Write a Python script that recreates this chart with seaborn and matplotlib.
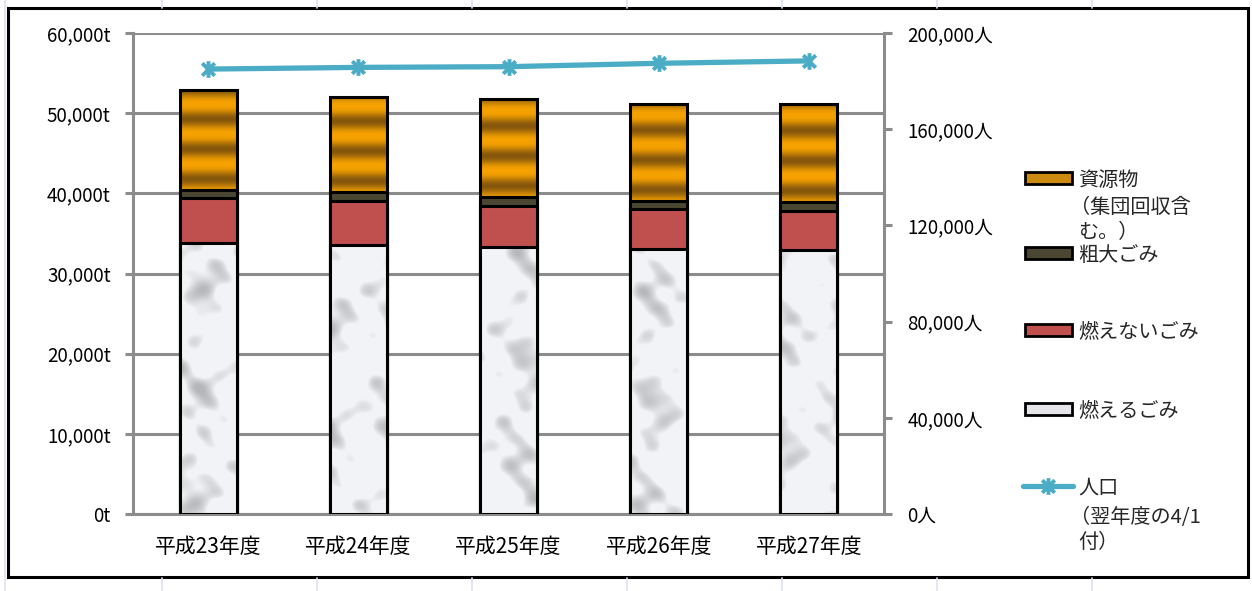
import numpy as np
import pandas as pd
import matplotlib
matplotlib.use("Agg")
import matplotlib.pyplot as plt
from matplotlib.patches import Rectangle
from matplotlib.lines import Line2D
from matplotlib.path import Path
from matplotlib.ticker import FixedLocator, FuncFormatter
import seaborn as sns

# ---- data -------------------------------------------------------------
years = ["平成23年度", "平成24年度", "平成25年度", "平成26年度", "平成27年度"]
burnable = [33800, 33550, 33270, 33020, 32930]        # 燃えるごみ (t)
non_burnable = [5650, 5530, 5190, 4980, 4870]         # 燃えないごみ (t)
bulky = [960, 1050, 1120, 1080, 1100]                 # 粗大ごみ (t)
resources = [12460, 11850, 12190, 12060, 12240]       # 資源物 (t)
population = [185000, 185700, 186000, 187400, 188400]  # 人口 (人)

label_resources = ["資源物", "（集団回収含", "む。）"]
label_bulky = ["粗大ごみ"]
label_non_burnable = ["燃えないごみ"]
label_burnable = ["燃えるごみ"]
label_population = ["人口", "（翌年度の4/1", "付）"]

left_ticks = [0, 10000, 20000, 30000, 40000, 50000, 60000]
right_ticks = [0, 40000, 80000, 120000, 160000, 200000]

# ---- style ------------------------------------------------------------
sns.set_style("white")
plt.rcParams["font.family"] = ["Noto Sans CJK JP", "DejaVu Sans"]

GREY = "#8c8c8c"
ORANGE_BRIGHT = np.array([0xf6, 0xa2, 0x00]) / 255
ORANGE_DARK = np.array([0x86, 0x57, 0x0c]) / 255
OLIVE = "#4b4631"
RED = "#c0504d"
BLUE = "#4bacc6"
EDGE_LW = 2.2
BAR_W = 0.38

W, H = 1252, 591
fig = plt.figure(figsize=(W / 100, H / 100), dpi=100)
fig.patch.set_facecolor("white")


def fx(px):
    return px / W


def fy(py):
    return 1 - py / H


ax = fig.add_axes([fx(133), fy(514), (884 - 133) / W, (514 - 33) / H])

df = pd.DataFrame({
    "year": years,
    "burnable": burnable,
    "non_burnable": non_burnable,
    "bulky": bulky,
    "resources": resources,
})
df["c1"] = df["burnable"]
df["c2"] = df["c1"] + df["non_burnable"]
df["c3"] = df["c2"] + df["bulky"]
df["c4"] = df["c3"] + df["resources"]

PX_PER_T = 481 / 60000.0  # vertical pixels per tonne


def draw_layer(col, color, z):
    n0 = len(ax.patches)
    sns.barplot(data=df, x="year", y=col, color=color, saturation=1,
                width=BAR_W, edgecolor="black", linewidth=EDGE_LW,
                zorder=z, ax=ax)
    return ax.patches[n0:]


def stripe_texture(h_px):
    off = np.linspace(0, h_px, max(int(h_px * 3), 2))
    t = 0.5 * (1 + np.cos(2 * np.pi * (off - 11) / 30.0))
    w = t ** 1.3
    rgb = ORANGE_BRIGHT[None, :] * (1 - w)[:, None] + ORANGE_DARK[None, :] * w[:, None]
    return rgb[:, None, :]


def marble_texture(w_px, h_px, shift):
    u = np.arange(int(w_px))[None, :] + shift
    v = np.arange(int(h_px))[:, None] + 1.7 * shift
    p = (0.5 * np.sin(0.09 * u + 0.8 * np.sin(0.05 * v))
         + 0.5 * np.sin(0.06 * v + 0.9 * np.sin(0.08 * u))
         + 0.35 * np.sin(0.14 * (u + v))
         + 0.35 * np.sin(0.12 * (u - v) + 1.0)
         + 0.25 * np.sin(0.21 * u + 0.17 * v + 2.0)
         + 0.2 * np.sin(0.27 * v - 0.11 * u + 0.5))
    d = np.clip((p - 0.3) / 1.4, 0, 1) ** 0.8
    g = 0.955 - 0.24 * d
    rgb = np.stack([g - 0.005, g, np.clip(g + 0.015, 0, 1)], axis=-1)
    return rgb


# stacked columns drawn as cumulative totals, tallest first
top_bars = draw_layer("c4", "#d08c10", 2)
for p, lo, hi in zip(top_bars, df["c3"], df["c4"]):
    x0, w = p.get_x(), p.get_width()
    img = stripe_texture((hi - lo) * PX_PER_T)
    ax.imshow(img, extent=[x0, x0 + w, lo, hi], origin="lower",
              aspect="auto", interpolation="bilinear", zorder=1.9)
    p.set_facecolor("none")

draw_layer("c3", OLIVE, 3)
draw_layer("c2", RED, 4)

base_bars = draw_layer("c1", "#eeeef0", 5)
for i, (p, hi) in enumerate(zip(base_bars, df["c1"])):
    x0, w = p.get_x(), p.get_width()
    img = marble_texture(w * 150.2, hi * PX_PER_T, 23 * i)
    ax.imshow(img, extent=[x0, x0 + w, 0, hi], origin="lower",
              aspect="auto", interpolation="bilinear", zorder=4.9)
    p.set_facecolor("none")

# primary axis
ax.set_xlim(-0.5, len(years) - 0.5)
ax.set_ylim(0, 60000)
ax.yaxis.set_major_locator(FixedLocator(left_ticks))
ax.yaxis.set_major_formatter(FuncFormatter(lambda v, _: f"{v:,.0f}t"))
ax.set_axisbelow(True)
ax.yaxis.grid(True, color=GREY, linewidth=EDGE_LW)
ax.xaxis.grid(False)
ax.set_xlabel("")
ax.set_ylabel("")
for s in ("top", "right"):
    ax.spines[s].set_visible(False)
for s in ("left", "bottom"):
    ax.spines[s].set_color(GREY)
    ax.spines[s].set_linewidth(EDGE_LW)
ax.xaxis.set_minor_locator(FixedLocator(np.arange(-0.5, len(years), 1.0)))
ax.tick_params(axis="x", which="major", length=0, pad=16, labelsize=15, labelcolor="black")
ax.tick_params(axis="x", which="minor", length=6, width=EDGE_LW, color=GREY, direction="out")
ax.tick_params(axis="y", which="major", length=6, width=EDGE_LW, color=GREY,
               direction="out", left=True, pad=10, labelsize=13.5, labelcolor="black")

# secondary axis: population
ax2 = ax.twinx()
star = Path([(0, -1), (0, 1), (-0.75, -0.75), (0.75, 0.75), (-0.75, 0.75), (0.75, -0.75)],
            [Path.MOVETO, Path.LINETO, Path.MOVETO, Path.LINETO, Path.MOVETO, Path.LINETO])
sns.lineplot(x=years, y=population, ax=ax2, color=BLUE, linewidth=3.8, sort=False,
             marker=star, markersize=12, markeredgewidth=2.8, markeredgecolor=BLUE,
             markerfacecolor="none", zorder=6)
ax2.set_ylim(0, 200000)
ax2.yaxis.set_major_locator(FixedLocator(right_ticks))
ax2.yaxis.set_major_formatter(FuncFormatter(lambda v, _: f"{v:,.0f}人"))
ax2.set_ylabel("")
ax2.grid(False)
for s in ("top", "left", "bottom"):
    ax2.spines[s].set_visible(False)
ax2.spines["right"].set_color(GREY)
ax2.spines["right"].set_linewidth(EDGE_LW)
ax2.tick_params(axis="y", length=6, width=EDGE_LW, color=GREY, direction="out",
                right=True, pad=11, labelsize=13.5, labelcolor="black")
ax.set_xlim(-0.5, len(years) - 0.5)

# legend drawn at the right of the plot area
LEG_X0, LEG_X1, TEXT_X = 1025, 1072, 1078
leg_fs = 14.5


def legend_text(lines, ys):
    for line, yy in zip(lines, ys):
        # full-width opening brackets carry blank space on their left side
        x = TEXT_X - 8 if line.startswith("（") else TEXT_X
        fig.text(fx(x), fy(yy), line, fontsize=leg_fs,
                 va="center_baseline", ha="left")


patch_entries = [
    (178, "#cc8a10", label_resources, [178, 205, 230]),
    (253, OLIVE, label_bulky, [253]),
    (330, RED, label_non_burnable, [330]),
    (409, "#e6e6ea", label_burnable, [409]),
]
for yc, col, lab, ys in patch_entries:
    fig.add_artist(Rectangle((fx(LEG_X0), fy(yc + 6)), (LEG_X1 - LEG_X0) / W, 12 / H,
                             transform=fig.transFigure, facecolor=col,
                             edgecolor="black", linewidth=2.0))
    legend_text(lab, ys)

pop_y = 486
fig.add_artist(Line2D([fx(1023), fx(1073)], [fy(pop_y), fy(pop_y)],
                      transform=fig.transFigure, color=BLUE, linewidth=3.8,
                      solid_capstyle="round"))
fig.add_artist(Line2D([fx(1048)], [fy(pop_y)], transform=fig.transFigure,
                      marker=star, markersize=12, markeredgewidth=2.8,
                      markeredgecolor=BLUE, markerfacecolor="none", linestyle="none"))
legend_text(label_population, [486, 515, 540])

# worksheet cell lines around the chart object
CELL = "#dde3ee"
for cx in [162, 317, 472, 627, 782, 937, 1092]:
    fig.add_artist(Line2D([fx(cx), fx(cx)], [fy(0), fy(8)], transform=fig.transFigure,
                          color=CELL, linewidth=1.2))
    fig.add_artist(Line2D([fx(cx), fx(cx)], [fy(578), fy(591)], transform=fig.transFigure,
                          color=CELL, linewidth=1.2))
fig.add_artist(Line2D([fx(5), fx(5)], [0, 1], transform=fig.transFigure,
                      color=CELL, linewidth=1.2))

# chart frame
fig.add_artist(Rectangle((fx(8), fy(577)), (1248 - 8) / W, (577 - 8) / H,
                         transform=fig.transFigure, fill=False,
                         edgecolor="black", linewidth=2.2))

fig.savefig("out.png", dpi=100, facecolor="white")
